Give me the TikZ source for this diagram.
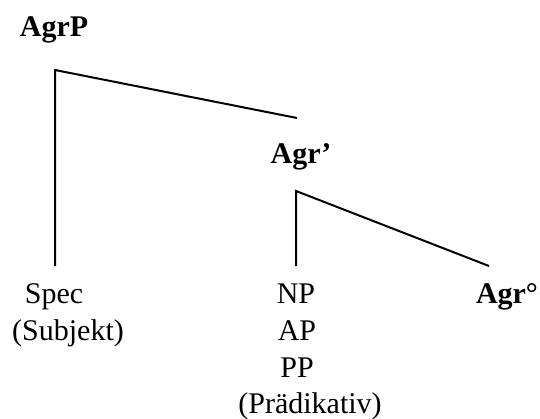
\documentclass[tikz,border=0pt]{standalone}
\usepackage{fontspec}
\setmainfont{Liberation Serif}
\begin{document}
\begin{tikzpicture}[x=0.5pt, y=-0.5pt, line width=1pt,
    lbl/.style={anchor=base, inner sep=0pt, font=\fontsize{15}{18}\selectfont},
    cat/.style={lbl, font=\fontsize{15}{18}\selectfont\bfseries}]
    \useasboundingbox (0, 0) rectangle (540, 418);
    % category labels
    \node[cat] (agrp) at (54, 36) {AgrP};
    \node[cat] (agrbar) at (301, 163) {Agr’};
    \node[cat] (agrhead) at (507, 303) {Agr°};
    % leaves
    \node[lbl] (spec) at (54, 303) {Spec};
    \node[lbl] (subj) at (68, 340) {(Subjekt)};
    \node[lbl] (np) at (296, 303) {NP};
    \node[lbl] (ap) at (297, 340) {AP};
    \node[lbl] (pp) at (297, 377) {PP};
    \node[lbl] (praed) at (310, 413) {(Prädikativ)};
    % branch points
    \coordinate (top) at (55, 70);
    \coordinate (specend) at (55, 266);
    \coordinate (barend) at (297, 118);
    \coordinate (mid) at (296, 191);
    \coordinate (compend) at (296, 266);
    \coordinate (headend) at (489, 266);
    \draw (specend) -- (top) -- (barend)
          (compend) -- (mid) -- (headend);
\end{tikzpicture}
\end{document}
